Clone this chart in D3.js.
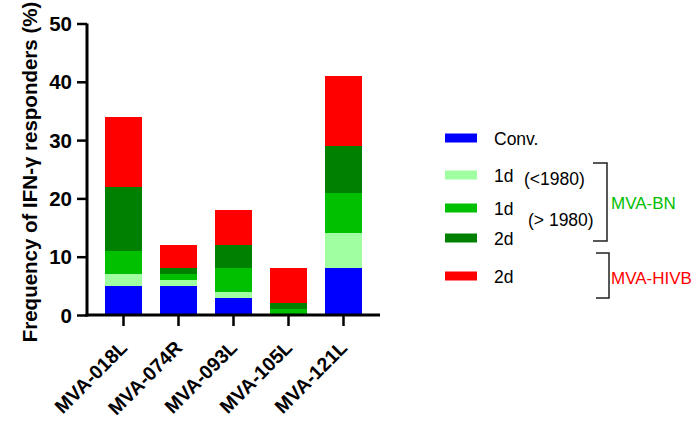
<!DOCTYPE html>
<html><head><meta charset="utf-8">
<script src="https://cdn.jsdelivr.net/npm/d3@7"></script>
<style>body{margin:0;background:#fff}svg{display:block}text{font-family:Arial,"Liberation Sans",sans-serif}</style>
</head><body>
<svg id="c" width="698" height="427"></svg>
<script>
const categories = ["MVA-018L","MVA-074R","MVA-093L","MVA-105L","MVA-121L"];
const conv       = [5, 5, 3, 0, 8];
const bnPre1980  = [2, 1, 1, 0, 6];
const bnPost1980 = [4, 1, 4, 1, 7];
const bn2d       = [11, 1, 4, 1, 8];
const hivb2d     = [12, 4, 6, 6, 12];
const yTicks = [0, 10, 20, 30, 40, 50];
const seriesKeys = ["conv","pre","post","bn2d","hivb"];
const seriesColors = ["#0000ff","#a0ffa0","#00c000","#008000","#ff0000"];
const legendLabels = ["Conv.","1d","1d","2d","2d"];

const rows = categories.map((c,i)=>({cat:c, conv:conv[i], pre:bnPre1980[i], post:bnPost1980[i], bn2d:bn2d[i], hivb:hivb2d[i]}));
const stack = d3.stack().keys(seriesKeys)(rows);

const svg = d3.select("#c");
const x = d3.scaleBand().domain(categories).range([96, 371]).paddingInner(0.327).paddingOuter(0.1635);
const y = d3.scaleLinear().domain([0, 50]).range([315, 23.5]);

// bars
svg.append("g").selectAll("g").data(stack).join("g")
  .attr("fill",(d,i)=>seriesColors[i])
  .selectAll("rect").data(d=>d).join("rect")
  .attr("x",d=>x(d.data.cat)).attr("width",x.bandwidth())
  .attr("y",d=>y(d[1])).attr("height",d=>y(d[0])-y(d[1]))
  .attr("shape-rendering","crispEdges");

// y axis
const ya = svg.append("g").attr("transform","translate(87,0)")
  .call(d3.axisLeft(y).tickValues(yTicks).tickSize(10).tickPadding(5).tickFormat(d3.format("d")));
ya.select(".domain").attr("stroke","#000").attr("stroke-width",3).attr("d","M0,"+y(50)+"V"+(y(0)+1.5));
ya.selectAll(".tick line").attr("stroke","#000").attr("stroke-width",2.5);
ya.selectAll(".tick text").attr("font-size",20.5).attr("font-weight","bold").attr("fill","#000").attr("dy","0.35em");

// x axis
const xa = svg.append("g").attr("transform","translate(0,315)")
  .call(d3.axisBottom(x).tickSize(11).tickPadding(3));
xa.select(".domain").attr("stroke","#000").attr("stroke-width",3).attr("d","M85.5,0H380");
xa.selectAll(".tick line").attr("stroke","#000").attr("stroke-width",2.5);
xa.selectAll(".tick text").attr("font-size",19.5).attr("font-weight","bold").attr("fill","#000")
  .attr("text-anchor","end").attr("dy",0)
  .attr("transform","translate(5,34) rotate(-45)").attr("y",0).attr("x",0);

// y title
svg.append("text").attr("transform","translate(37,172) rotate(-90)")
  .attr("text-anchor","middle").attr("font-size",20.5).attr("font-weight","bold").attr("fill","#000")
  .text("Frequency of IFN-γ responders (%)");

// legend
const legY = [138, 175, 208, 238, 276];
const lg = svg.append("g");
legendLabels.forEach((l,i)=>{
  lg.append("rect").attr("x",445).attr("y",legY[i]-4.5).attr("width",32).attr("height",9).attr("fill",seriesColors[i]);
  lg.append("text").attr("x",494).attr("y",legY[i]+7).attr("font-size",17.5).attr("fill","#000").text(l);
});
lg.append("text").attr("x",524).attr("y",185).attr("font-size",17.5).attr("fill","#000").text("(<1980)");
lg.append("text").attr("x",528).attr("y",226).attr("font-size",17.5).attr("fill","#000").text("(> 1980)");
lg.append("path").attr("d","M593,163H607V241H593").attr("fill","none").attr("stroke","#222").attr("stroke-width",1.5);
lg.append("path").attr("d","M596,253H609V298H596").attr("fill","none").attr("stroke","#222").attr("stroke-width",1.5);
lg.append("text").attr("x",611).attr("y",209).attr("font-size",17).attr("fill","#00c000").text("MVA-BN");
lg.append("text").attr("x",611).attr("y",284).attr("font-size",17).attr("fill","#ff0000").text("MVA-HIVB");
</script>
</body></html>
